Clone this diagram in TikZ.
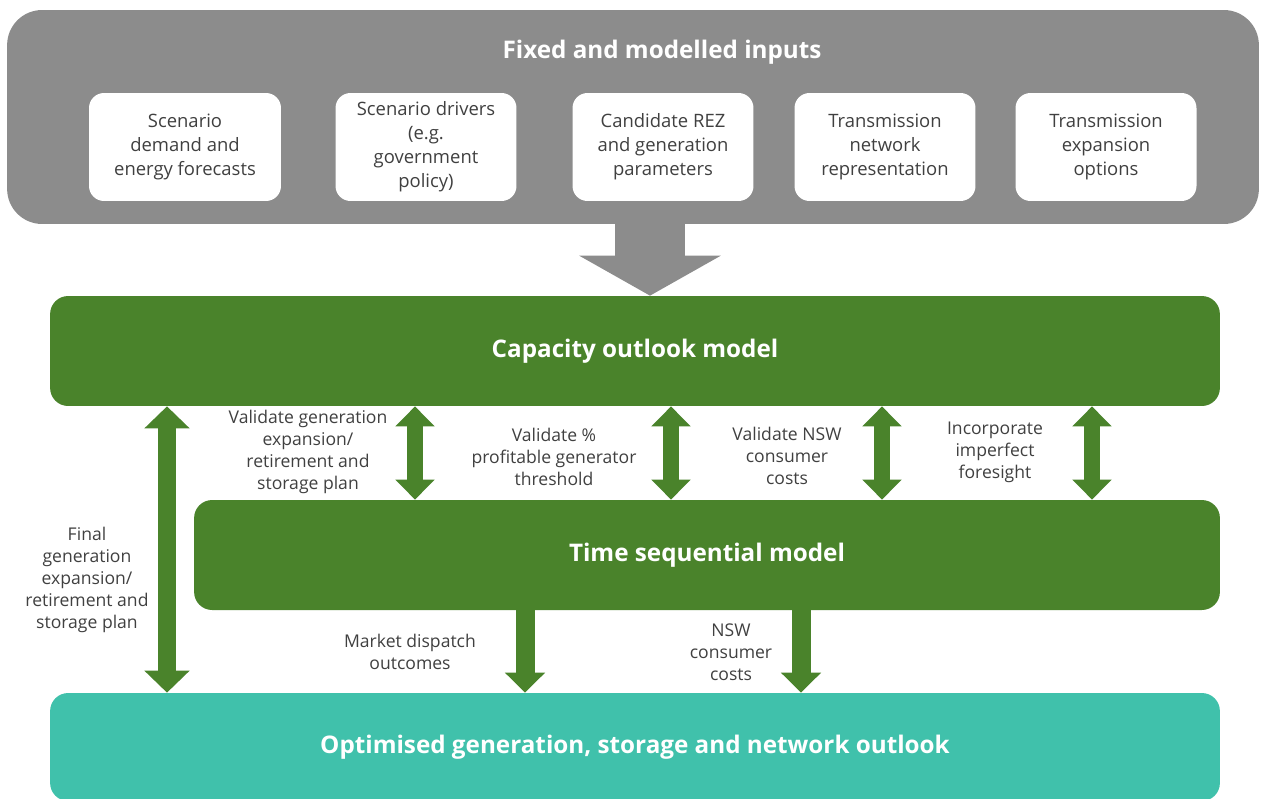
\documentclass[tikz,border=0pt]{standalone}
\usepackage{fontspec}
\setmainfont{Open Sans}
\usetikzlibrary{positioning, arrows.meta, calc}
\definecolor{inputgray}{HTML}{8C8C8C}
\definecolor{modelgreen}{HTML}{4A832B}
\definecolor{outteal}{HTML}{40C1AB}
\definecolor{labeltext}{HTML}{404040}

\begin{document}
\begin{tikzpicture}[x=0.02cm, y=-0.02cm,
    every node/.style={font=\fontsize{10}{12.5}\selectfont, text=labeltext},
    panel/.style={rectangle, rounded corners=0.7cm, fill=inputgray,
      minimum width=25.04cm, minimum height=4.28cm},
    inbox/.style={rectangle, rounded corners=0.3cm, fill=white,
      minimum width=3.62cm, minimum height=2.16cm, align=center,
      font=\fontsize{10.5}{13.6}\selectfont},
    model/.style={rectangle, rounded corners=0.36cm, fill=modelgreen,
      minimum height=2.2cm, text=white, font=\fontsize{13.8}{17}\selectfont\bfseries},
    note/.style={align=center},
    bigarr/.style={inputgray, line width=1.4cm,
      -{Triangle[width=2.8cm, length=0.8cm]}},
    dbl/.style={modelgreen, line width=0.32cm,
      {Triangle[width=0.76cm, length=0.4cm]}-{Triangle[width=0.76cm, length=0.4cm]}},
    down/.style={modelgreen, line width=0.38cm,
      -{Triangle[width=0.78cm, length=0.4cm]}}]

  \useasboundingbox (0,0) rectangle (1267,798);

  % inputs
  \node[panel] (inputs) at (633,117) {};
  \node[text=white, font=\fontsize{13.8}{17}\selectfont\bfseries] (inputstitle)
    at (662,52) {Fixed and modelled inputs};
  \node[inbox, minimum width=3.84cm] (demand) at (185,147)
    {Scenario\\demand and\\energy forecasts};
  \node[inbox] (drivers) at (426,147)
    {Scenario drivers\\(e.g.\\government\\policy)};
  \node[inbox] (rez) at (663,147) {Candidate REZ\\and generation\\parameters};
  \node[inbox] (network) at (885,147)
    {Transmission\\network\\representation};
  \node[inbox] (expansion) at (1106,147) {Transmission\\expansion\\options};

  % models
  \node[model, minimum width=23.4cm] (cap) at (635,351) {Capacity outlook model};
  \node[model, minimum width=20.52cm] (tsm) at (707,555) {Time sequential model};
  \node[model, fill=outteal, minimum width=23.4cm, minimum height=2.16cm]
    (opt) at (635,747) {Optimised generation, storage and network outlook};

  % arrow columns
  \coordinate (bigx) at (650,0);
  \coordinate (finalx) at (167,0);
  \coordinate (vplanx) at (415,0);
  \coordinate (vprofx) at (671,0);
  \coordinate (vcostx) at (882,0);
  \coordinate (forex) at (1092,0);
  \coordinate (dispx) at (525,0);
  \coordinate (costx) at (801,0);

  \draw[bigarr] (inputs.south -| bigx) -- (cap.north -| bigx);
  \draw[dbl, line width=0.36cm,
    {Triangle[width=0.88cm, length=0.44cm]}-{Triangle[width=0.88cm, length=0.44cm]}]
    (cap.south -| finalx) -- (opt.north -| finalx);
  \draw[dbl] (cap.south -| vplanx) -- (tsm.north -| vplanx);
  \draw[dbl] (cap.south -| vprofx) -- (tsm.north -| vprofx);
  \draw[dbl] (cap.south -| vcostx) -- (tsm.north -| vcostx);
  \draw[dbl] (cap.south -| forex) -- (tsm.north -| forex);
  \draw[down] (tsm.south -| dispx) -- (opt.north -| dispx);
  \draw[down] (tsm.south -| costx) -- (opt.north -| costx);

  % labels
  \node[note] (finalplan) at (87,580)
    {Final\\generation\\expansion/\\retirement and\\storage plan};
  \node[note] (validplan) at (308,452)
    {Validate generation\\expansion/\\retirement and\\storage plan};
  \node[note] (validprof) at (554,457)
    {Validate \%\\profitable generator\\threshold};
  \node[note] (validcost) at (787,456) {Validate NSW\\consumer\\costs};
  \node[note] (foresight) at (995,452) {Incorporate\\imperfect\\foresight};
  \node[note] (dispatch) at (410,652) {Market dispatch\\outcomes};
  \node[note] (nswcost) at (731,652) {NSW\\consumer\\costs};
\end{tikzpicture}
\end{document}
